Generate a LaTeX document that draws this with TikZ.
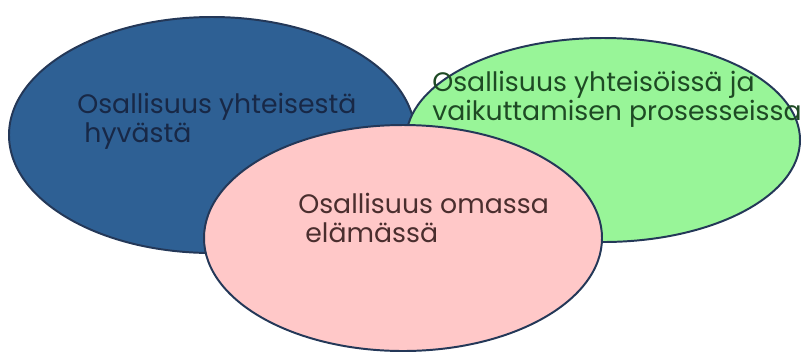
\documentclass[tikz,border=0pt]{standalone}
\usepackage{fontspec}
\setmainfont{Poppins}
\usepackage{xcolor}
\usetikzlibrary{shapes.geometric}

\definecolor{rimnavy}{RGB}{36,56,88}
\definecolor{blobblue}{RGB}{46,96,148}
\definecolor{blobgreen}{RGB}{152,245,152}
\definecolor{blobpink}{RGB}{255,200,200}
\definecolor{txtblue}{RGB}{24,40,70}
\definecolor{txtgreen}{RGB}{30,74,36}
\definecolor{txtpink}{RGB}{74,46,46}

\begin{document}
\begin{tikzpicture}[
	bubble/.style={ellipse,draw=rimnavy,line width=1.4pt,inner sep=0pt},
	bubbletext/.style={anchor=base west,align=left,inner sep=0pt,
		font=\fontsize{19}{20.6}\selectfont}
	]
	
	\useasboundingbox (0,0) rectangle (20.075,-8.825);
	
	% --- blue: yhteinen hyvä ---
	\node[bubble,fill=blobblue,minimum width=10.15cm,minimum height=5.9cm]
	(blue) at (5.30,-3.375) {};
	
	% --- green: yhteisöt ja prosessit ---
	\node[bubble,fill=blobgreen,minimum width=9.85cm,minimum height=5.1cm]
	(green) at (15.075,-3.5) {};
	
	% --- pink: oma elämä ---
	\node[bubble,fill=blobpink,minimum width=9.95cm,minimum height=5.65cm]
	(pink) at (10.075,-5.95) {};
	
	% labels (base = last line)
	\node[bubbletext,text=txtblue] (bluetext) at (1.925,-3.55)
	{Osallisuus yhteisestä\\\ hyvästä};
	\node[bubbletext,text=txtgreen] (greentext) at (10.8,-3.0)
	{Osallisuus yhteisöissä ja\\vaikuttamisen prosesseissa};
	\node[bubbletext,text=txtpink] (pinktext) at (7.45,-6.05)
	{Osallisuus omassa\\\ elämässä};
	
\end{tikzpicture}
\end{document}
